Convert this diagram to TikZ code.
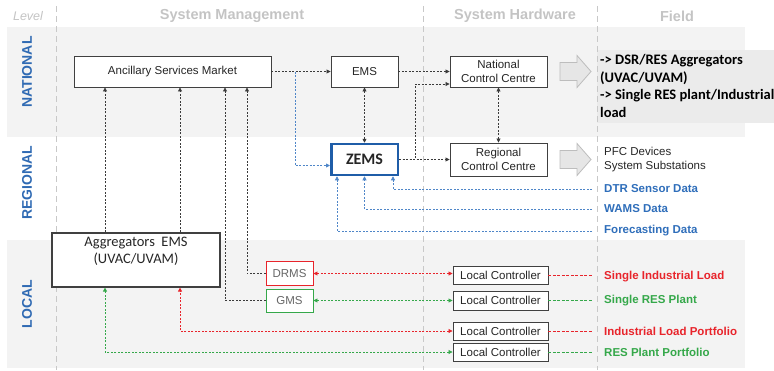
\documentclass[tikz,border=0pt]{standalone}
\usepackage{fontspec}
\setmainfont{Liberation Sans}
\newfontfamily\calfont{Carlito}
\usetikzlibrary{arrows.meta,calc}

\definecolor{bandgray}{HTML}{F3F3F3}
\definecolor{fieldgray}{HTML}{EBEBEB}
\definecolor{sepgray}{HTML}{C8C8C8}
\definecolor{hdrgray}{HTML}{C4C4C4}
\definecolor{lvlblue}{HTML}{2F6AB3}
\definecolor{datablue}{HTML}{2F6EBA}
\definecolor{lineblue}{HTML}{4F86C8}
\definecolor{zemsblue}{HTML}{1F5DA8}
\definecolor{redc}{HTML}{E8242B}
\definecolor{greenc}{HTML}{35A84A}
\definecolor{sysline}{HTML}{3A3A3A}
\definecolor{boxline}{HTML}{404040}
\definecolor{textdark}{HTML}{262626}
\definecolor{arrfill}{HTML}{E6E6E6}
\definecolor{arrline}{HTML}{BDBDBD}

\begin{document}
\begin{tikzpicture}[x=1pt,y=-1pt,
  sysbox/.style={draw=boxline, line width=0.9pt, fill=white, text=textdark,
    font=\fontsize{11.5}{13.5}\selectfont, inner sep=0pt, align=center},
  hdr/.style={text=hdrgray, font=\bfseries\fontsize{14.5}{16}\selectfont},
  lvl/.style={text=lvlblue, font=\bfseries\fontsize{14}{16}\selectfont, rotate=90},
  fieldtxt/.style={anchor=west, inner sep=0pt, align=left},
  sepline/.style={draw=sepgray, line width=0.8pt, dash pattern=on 6pt off 4pt},
  conn/.style={line width=0.8pt, dash pattern=on 2pt off 1.5pt},
  sysl/.style={conn, draw=sysline},
  bluel/.style={conn, draw=lineblue},
  redl/.style={conn, draw=redc},
  greenl/.style={conn, draw=greenc},
  feedl/.style={line width=0.8pt, dash pattern=on 3pt off 1.5pt},
  arr/.style={-{Triangle[length=4pt,width=4pt]}},
  dbl/.style={{Triangle[length=4pt,width=4pt]}-{Triangle[length=4pt,width=4pt]}},
  blockarr/.style={fill=arrfill, draw=arrline, line width=0.8pt, line join=miter}
]
\useasboundingbox (0,0) rectangle (774,370);
\clip (0,0) rectangle (774,370);

% level bands
\fill[bandgray] (7,27) rectangle (745,137);
\fill[bandgray] (7,240) rectangle (745,368);
\fill[fieldgray] (597,50) rectangle (774,123);

% column separators
\draw[sepline] (56,6) -- (56,370);
\draw[sepline] (423.5,6) -- (423.5,370);
\draw[sepline] (597,6) -- (597,370);

% column headers
\node[text=hdrgray, font=\itshape\fontsize{12.5}{14}\selectfont] (hlevel) at (28,16) {Level};
\node[hdr] (hsm) at (232,16) {System Management};
\node[hdr] (hsh) at (515,16) {System Hardware};
\node[hdr] (hfield) at (677,16) {Field};

% level labels
\node[lvl] (lnat) at (27,72) {NATIONAL};
\node[lvl] (lreg) at (27,183) {REGIONAL};
\node[lvl] (lloc) at (27,304) {LOCAL};

% system boxes
\node[sysbox, minimum width=197pt, minimum height=31pt] (asm) at (172.5,71.5) {Ancillary Services Market};
\node[sysbox, minimum width=67pt, minimum height=31pt] (ems) at (364.5,71.5) {EMS};
\node[sysbox, minimum width=97pt, minimum height=31pt] (ncc) at (498.5,71.5) {National\\Control Centre};
\node[sysbox, draw=zemsblue, line width=2.5pt, minimum width=66.5pt, minimum height=31pt,
  font=\calfont\bfseries\fontsize{16}{18}\selectfont] (zems) at (364.5,159.5) {ZEMS};
\node[sysbox, minimum width=97pt, minimum height=33pt] (rcc) at (498.5,159.5) {Regional\\Control Centre};
\node[sysbox, line width=1.2pt, minimum width=168pt, minimum height=54pt] (agg) at (136,260) {};
\node[align=center, text=textdark, inner sep=0pt, font=\calfont\fontsize{14.5}{17}\selectfont] (aggtxt) at (136,251) {Aggregators\ \ EMS\\(UVAC/UVAM)};
\node[sysbox, draw=redc, text=black!60, minimum width=47pt, minimum height=24pt] (drms) at (289.5,273.5) {DRMS};
\node[sysbox, draw=greenc, text=black!60, minimum width=47pt, minimum height=23pt] (gms) at (289.5,300.5) {GMS};
\node[sysbox, minimum width=95pt, minimum height=18pt] (lc1) at (500.5,275.5) {Local Controller};
\node[sysbox, minimum width=95pt, minimum height=19pt] (lc2) at (500.5,300.5) {Local Controller};
\node[sysbox, minimum width=95pt, minimum height=18pt] (lc3) at (500.5,331) {Local Controller};
\node[sysbox, minimum width=95pt, minimum height=18pt] (lc4) at (500.5,352) {Local Controller};

% hollow block arrows towards the field
\foreach \yc in {71.5,159.5}{
  \draw[blockarr] (560,{\yc-9}) -- (577,{\yc-9}) -- (577,{\yc-16}) -- (591,\yc)
    -- (577,{\yc+16}) -- (577,{\yc+9}) -- (560,{\yc+9}) -- cycle;
}

% field texts
\node[fieldtxt, text=black, font=\calfont\bfseries\fontsize{14.5}{17.5}\selectfont] (natf) at (600,86)
  {-> DSR/RES Aggregators\\(UVAC/UVAM)\\-> Single RES plant/Industrial\\load};
\node[fieldtxt, text=textdark, font=\fontsize{11.5}{14}\selectfont] (pfc) at (604,160) {PFC Devices\\System Substations};
\node[fieldtxt, text=datablue, font=\bfseries\fontsize{11.5}{13}\selectfont] (dtr) at (604,189) {DTR Sensor Data};
\node[fieldtxt, text=datablue, font=\bfseries\fontsize{11.5}{13}\selectfont] (wams) at (604,209) {WAMS Data};
\node[fieldtxt, text=datablue, font=\bfseries\fontsize{11.5}{13}\selectfont] (fore) at (604,231) {Forecasting Data};
\node[fieldtxt, text=redc, font=\bfseries\fontsize{11.5}{13}\selectfont] (sil) at (604,277) {Single Industrial Load};
\node[fieldtxt, text=greenc, font=\bfseries\fontsize{11.5}{13}\selectfont] (srp) at (604,301) {Single RES Plant};
\node[fieldtxt, text=redc, font=\bfseries\fontsize{11.5}{13}\selectfont] (ilp) at (604,331) {Industrial Load Portfolio};
\node[fieldtxt, text=greenc, font=\bfseries\fontsize{11.5}{13}\selectfont] (rpp) at (604,352) {RES Plant Portfolio};

% routing columns
\coordinate (cA) at (105,0);
\coordinate (cB) at (180,0);
\coordinate (cC) at (225,0);
\coordinate (cD) at (247,0);
\coordinate (cE) at (295,71.5);

% national / regional connectors
\draw[sysl,arr] (asm.east) -- (ems.west);
\draw[sysl,arr] (ems.east) -- (ncc.west);
\draw[sysl,dbl] (ems.south) -- (zems.north);
\draw[sysl,dbl] (ncc.south) -- (rcc.north);
\draw[sysl,arr] (zems.east) -- (rcc.west);
\draw[sysl,arr] (zems.east) -- ++(16,0) |- ([yshift=-12.5pt]ncc.west);
\draw[bluel,arr] (cE) |- ([yshift=-6pt]zems.west);

% measurement data into ZEMS
\draw[bluel,arr] ($(dtr.west)+(-12,0)$) -| ($(zems.south east)+(-6,0)$);
\draw[bluel,arr] ($(wams.west)+(-12,0)$) -| (zems.south);
\draw[bluel,arr] ($(fore.west)+(-12,0)$) -| ($(zems.south west)+(7,0)$);

% bids towards the ancillary services market
\draw[sysl,arr] (agg.north -| cA) -- (asm.south -| cA);
\draw[sysl,arr] (agg.north -| cB) -- (asm.south -| cB);
\draw[sysl,arr] (gms.west) -| (asm.south -| cC);
\draw[sysl,arr] (drms.west) -| (asm.south -| cD);

% local control links
\draw[redl,dbl] (drms.east) -- (drms.east -| lc1.west);
\draw[greenl,dbl] (gms.east) -- (gms.east -| lc2.west);
\draw[redl,dbl] (lc3.west) -| (agg.south -| cB);
\draw[greenl,dbl] (lc4.west) -| (agg.south -| cA);

% controllers to field assets
\draw[feedl, draw=redc] (lc1.east) -- ($(lc1.east -| sil.west)+(-12,0)$);
\draw[feedl, draw=greenc] (lc2.east) -- ($(lc2.east -| srp.west)+(-12,0)$);
\draw[feedl, draw=redc] (lc3.east) -- ($(lc3.east -| ilp.west)+(-12,0)$);
\draw[feedl, draw=greenc] (lc4.east) -- ($(lc4.east -| rpp.west)+(-12,0)$);
\end{tikzpicture}
\end{document}
